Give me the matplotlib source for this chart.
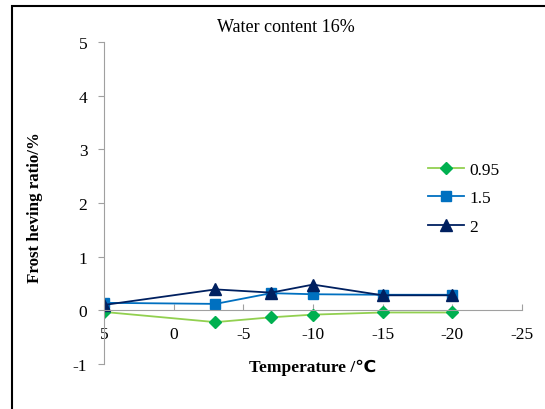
import matplotlib.pyplot as plt
from matplotlib.patches import Rectangle

# data
temps = [5, -3, -7, -10, -15, -20]
r095 = [-0.03, -0.22, -0.13, -0.08, -0.04, -0.04]
r15 = [0.14, 0.12, 0.32, 0.30, 0.29, 0.29]
r2 = [0.10, 0.39, 0.33, 0.48, 0.28, 0.28]
series_names = ['0.95', '1.5', '2']
xticks_vals = [5, 0, -5, -10, -15, -20, -25]
yticks_vals = [-1, 0, 1, 2, 3, 4, 5]

plt.rcParams['font.family'] = ['Liberation Serif', 'DejaVu Sans']

fig = plt.figure(figsize=(5.45, 4.1), dpi=100)
W, H = 545.0, 410.0
# outer black frame
fig.patches.append(Rectangle((12/W, -0.1), 1.2, (410-7)/H + 0.1, transform=fig.transFigure,
                             fill=False, edgecolor='black', linewidth=1.5))

ax = fig.add_axes([104/W, (H-365)/H, 418/W, 322/H])
ax.patch.set_visible(False)

ax.plot(temps, r095, color='#92D050', lw=1.3, marker='D', ms=6,
        mfc='#00B050', mec='#00B050', label=series_names[0])
ax.plot(temps, r15, color='#0070C0', lw=1.3, marker='s', ms=7,
        mfc='#0070C0', mec='#0070C0', label=series_names[1])
ax.plot(temps, r2, color='#002060', lw=1.3, marker='^', ms=8,
        mfc='#002060', mec='#002060', label=series_names[2])

ax.set_xlim(5, -25)
ax.set_ylim(-1, 5)
ax.set_xticks(xticks_vals)
ax.set_yticks(yticks_vals)
ax.set_xticklabels([str(v) for v in xticks_vals])
ax.set_yticklabels([str(v) for v in yticks_vals])

for s in ['top', 'right']:
    ax.spines[s].set_visible(False)
ax.spines['bottom'].set_position(('data', 0))
ax.spines['bottom'].set_color('#A0A0A0')
ax.spines['left'].set_color('#A0A0A0')
ax.tick_params(axis='x', direction='in', length=4, color='#A0A0A0', pad=11, labelsize=12.5)
ax.tick_params(axis='y', direction='out', length=4, color='#A0A0A0', pad=8, labelsize=12.5)

fig.text(313/W, 1 - 368/H, 'Temperature /\u2103', ha='center', va='center',
         fontsize=12.5, fontweight='bold')
fig.text(35/W, 1 - 208/H, 'Frost heving ratio/%', ha='center', va='center',
         rotation=90, fontsize=12.2, fontweight='bold')
fig.text(286/W, 1 - 28/H, 'Water content 16%', ha='center', va='center', fontsize=13)

ax.legend(loc='upper left', bbox_to_anchor=(412/W, 1 - 147/H), bbox_transform=fig.transFigure,
          frameon=False, fontsize=12.5, handlelength=2.1, labelspacing=0.72, handletextpad=0.3)

plt.savefig('out.png', dpi=100)
